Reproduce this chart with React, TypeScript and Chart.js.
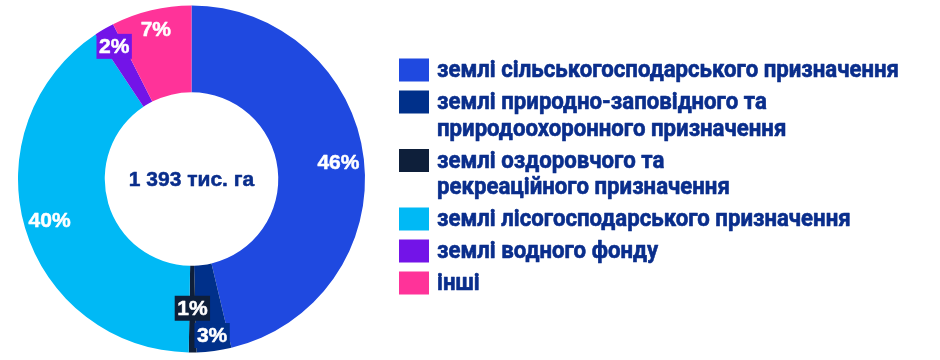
import React, { useEffect, useRef } from "react";
import { Chart, registerables } from "chart.js";

Chart.register(...registerables);

const categories: string[] = [
  "землі сільськогосподарського призначення",
  "землі природно-заповідного та\nприродоохоронного призначення",
  "землі оздоровчого та\nрекреаційного призначення",
  "землі лісогосподарського призначення",
  "землі водного фонду",
  "інші",
];
const areaValues: number[] = [645, 45, 10, 563, 26, 104];
const totalLabel = "1 393 тис. га";

const colors = ["#1F49E0", "#00308A", "#0E1F3A", "#00B9F5", "#7314E8", "#FF3399"];
const labelRadius = [0.705, 0.82, 0.49, 0.705, 0.77, 0.77];
const labelBoxed = [false, true, true, false, true, false];
const TEXT_COLOR = "#0A2E8C";
const FONT = "'Liberation Sans', Arial, sans-serif";
const LEGEND_FONT = "Roboto, 'Liberation Sans', Arial, sans-serif";
const LEGEND_WIDTH = 462; // width of the longest legend line

function boldText(ctx: CanvasRenderingContext2D, txt: string, x: number, y: number, color: string, w: number) {
  ctx.fillStyle = color;
  ctx.strokeStyle = color;
  ctx.lineWidth = w;
  ctx.lineJoin = "round";
  ctx.fillText(txt, x, y);
  ctx.strokeText(txt, x, y);
}

const overlayPlugin = {
  id: "overlay",
  afterDatasetsDraw(chart: any) {
    const ctx = chart.ctx as CanvasRenderingContext2D;
    const meta = chart.getDatasetMeta(0);
    const data = chart.data.datasets[0].data as number[];
    const total = data.reduce((a, b) => a + b, 0);
    ctx.save();
    // percentage labels
    ctx.font = `bold 21px ${FONT}`;
    ctx.textAlign = "center";
    ctx.textBaseline = "middle";
    meta.data.forEach((arc: any, i: number) => {
      const p = arc.getProps(["x", "y", "startAngle", "endAngle", "innerRadius", "outerRadius"], true);
      const mid = (p.startAngle + p.endAngle) / 2;
      const r = p.innerRadius + (p.outerRadius - p.innerRadius) * labelRadius[i];
      const x = p.x + Math.cos(mid) * r;
      const y = p.y + Math.sin(mid) * r;
      const txt = Math.round((data[i] / total) * 100) + "%";
      if (labelBoxed[i]) {
        const w = ctx.measureText(txt).width + 5;
        const h = 25;
        ctx.fillStyle = colors[i];
        ctx.fillRect(x - w / 2, y - h / 2, w, h);
      }
      boldText(ctx, txt, x, y + 1, "#FFFFFF", 0.5);
    });
    // centre text
    const c = meta.data[0].getProps(["x", "y"], true);
    ctx.font = `bold 21px ${FONT}`;
    boldText(ctx, totalLabel, c.x, c.y + 1, TEXT_COLOR, 0.5);

    // legend
    const lx = 399;
    const tx = 437;
    let ly = 70;
    const lineH = 26.5;
    const gap = 5.5;
    ctx.textAlign = "left";
    ctx.font = `bold 24px ${LEGEND_FONT}`;
    const longest = Math.max(...categories.flatMap((c2) => c2.split("\n")).map((s) => ctx.measureText(s).width));
    const sx = LEGEND_WIDTH / longest;
    categories.forEach((cat, i) => {
      const lines = cat.split("\n");
      ctx.fillStyle = colors[i];
      ctx.fillRect(lx, ly - 11.5, 30, 23);
      lines.forEach((ln, j) => {
        ctx.save();
        ctx.translate(tx, ly + j * lineH + 1);
        ctx.scale(sx, 1);
        boldText(ctx, ln, 0, 0, TEXT_COLOR, 0.6);
        ctx.restore();
      });
      ly += lines.length * lineH + gap;
    });
    ctx.restore();
  },
};

export default function App() {
  const ref = useRef<HTMLCanvasElement | null>(null);
  useEffect(() => {
    document.body.style.margin = "0";
    if (!ref.current) return;
    const chart = new Chart(ref.current, {
      type: "doughnut",
      data: {
        labels: categories,
        datasets: [
          {
            data: areaValues,
            backgroundColor: colors,
            borderWidth: 0,
          },
        ],
      },
      options: {
        animation: false,
        responsive: false,
        cutout: "50%",
        layout: { padding: { left: 18, right: 575, top: 5.5, bottom: 7.5 } },
        plugins: {
          legend: { display: false },
          tooltip: { enabled: false },
        },
      },
      plugins: [overlayPlugin],
    });
    return () => chart.destroy();
  }, []);
  return (
    <div style={{ width: 940, height: 360, background: "#fff" }}>
      <canvas ref={ref} width={940} height={360} style={{ display: "block" }} />
    </div>
  );
}
